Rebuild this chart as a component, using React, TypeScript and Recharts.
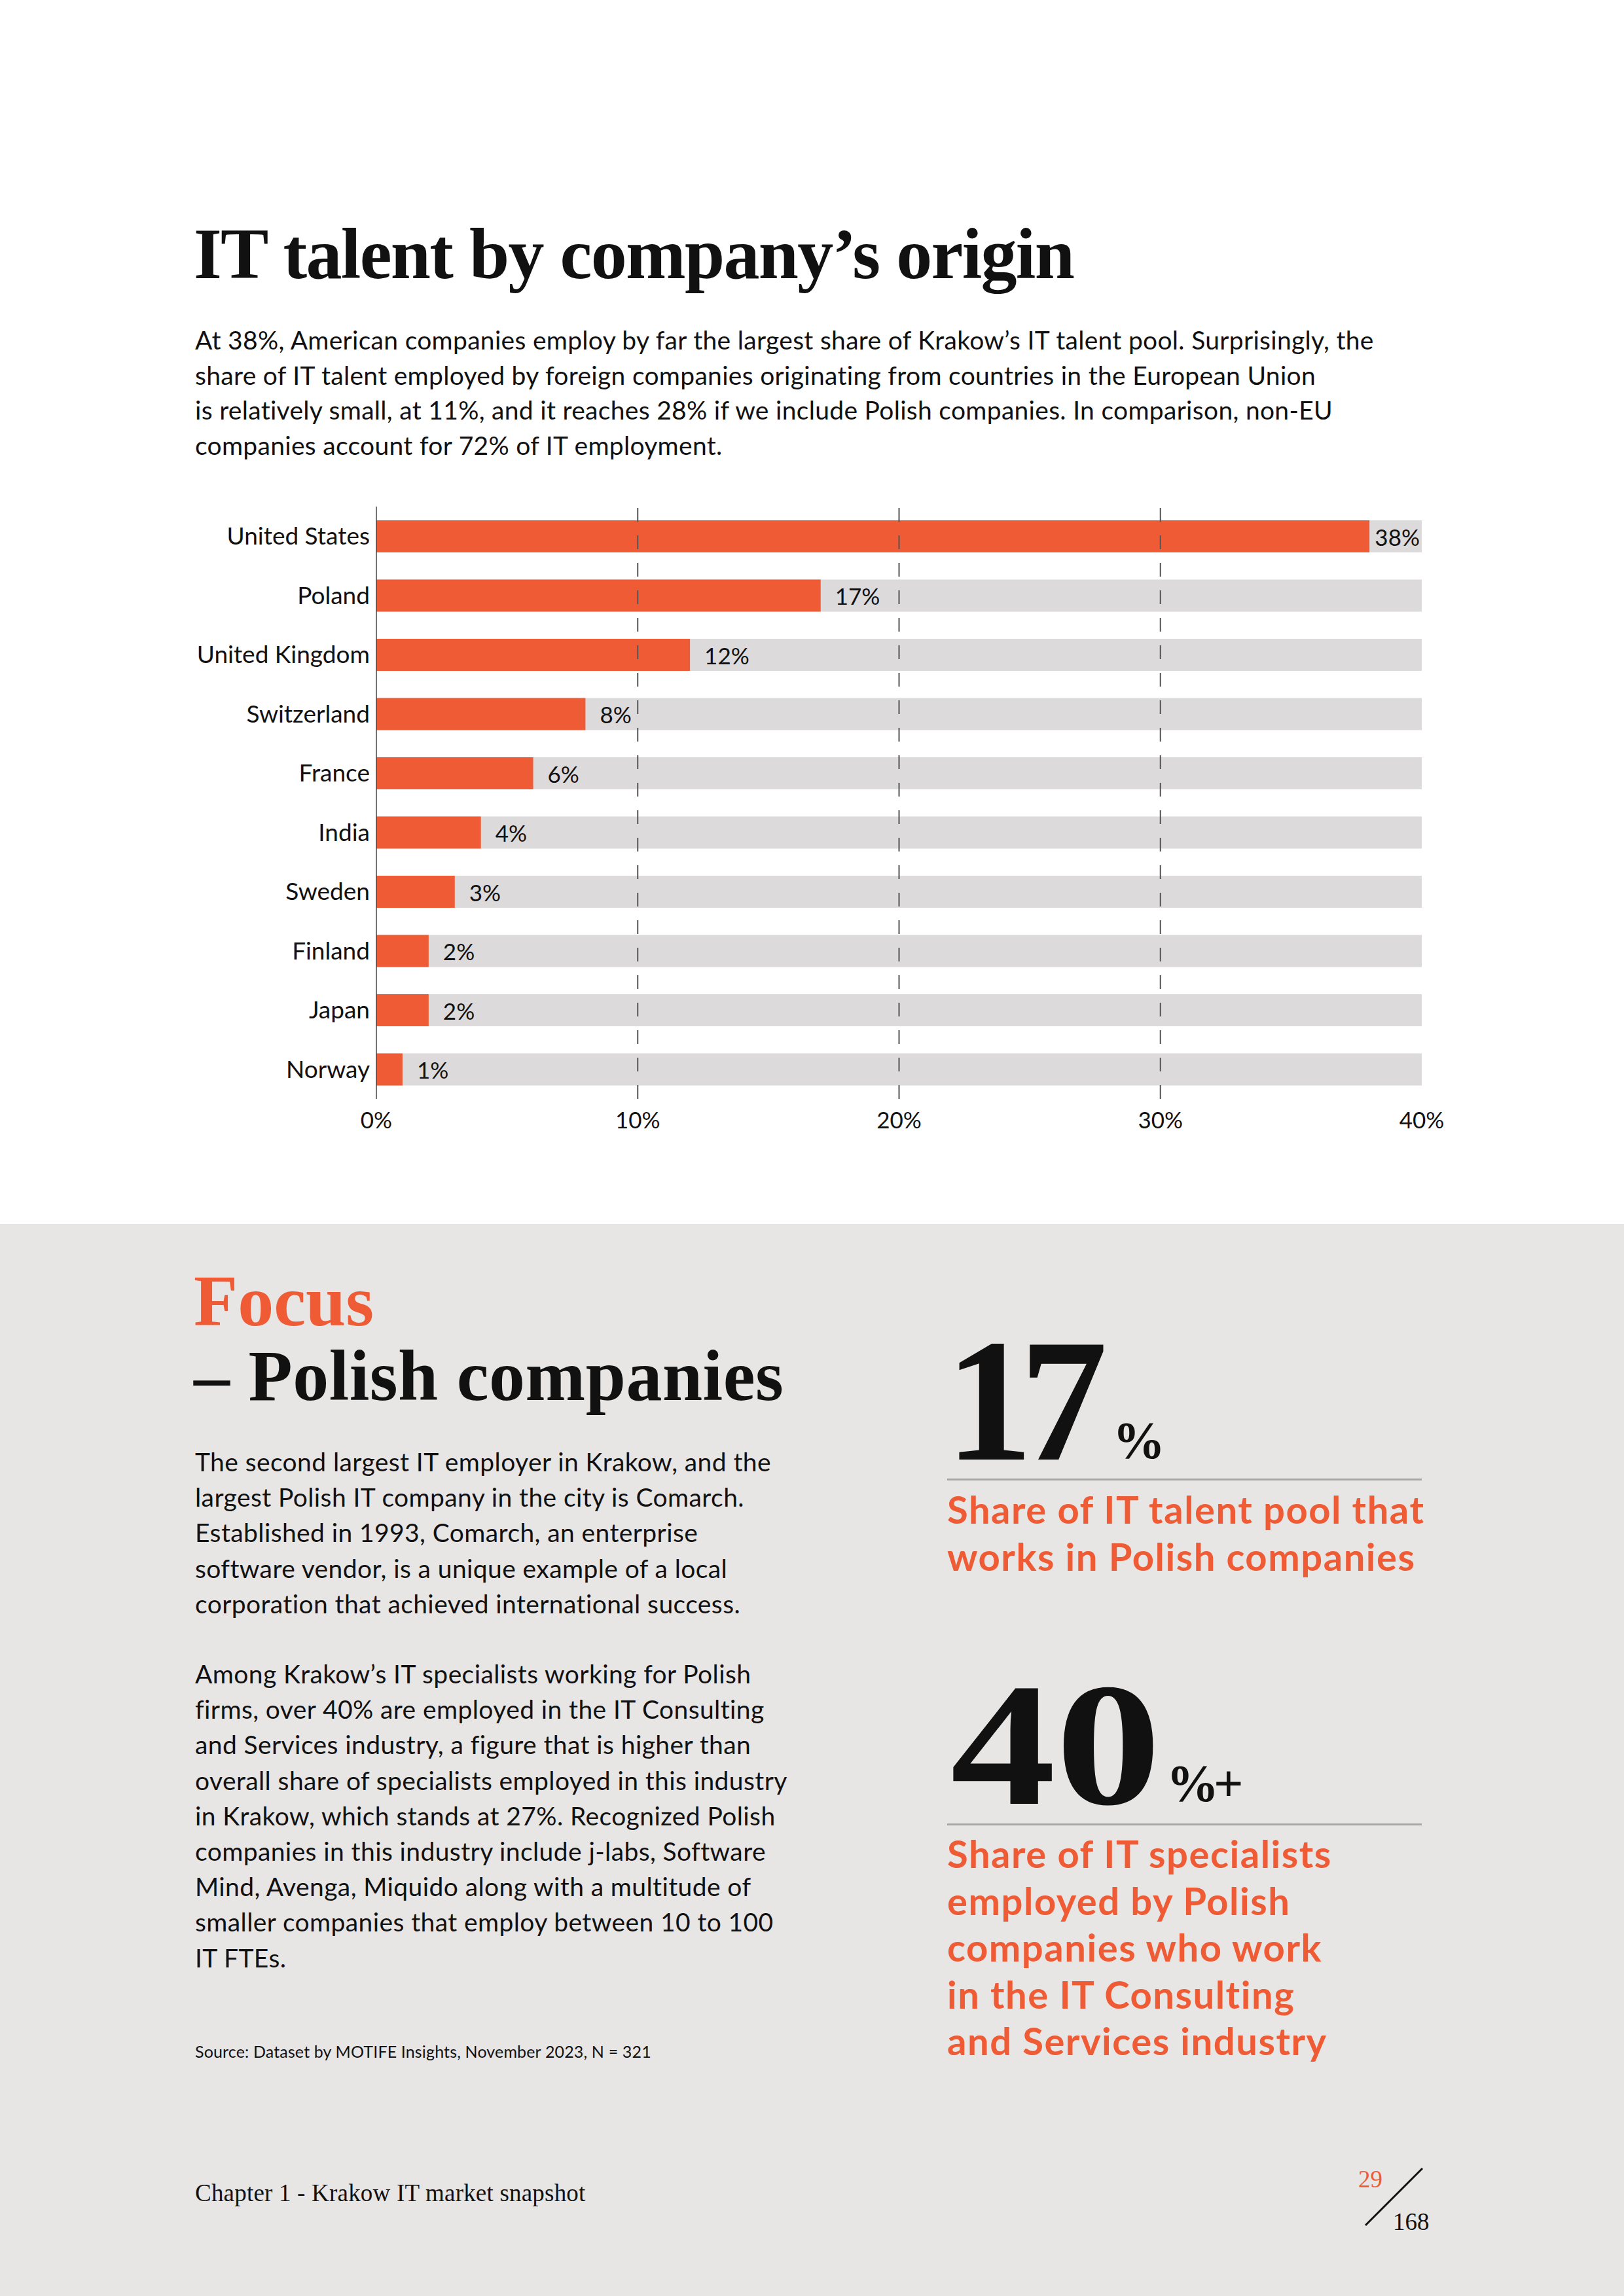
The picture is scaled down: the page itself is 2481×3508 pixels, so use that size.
import React from 'react';
import { BarChart, Bar, XAxis, YAxis, ReferenceLine, LabelList } from 'recharts';

// chart data
const countries = ['United States', 'Poland', 'United Kingdom', 'Switzerland', 'France', 'India', 'Sweden', 'Finland', 'Japan', 'Norway'];
const shares = [38, 17, 12, 8, 6, 4, 3, 2, 2, 1];
const xTicks = [0, 10, 20, 30, 40];
const gridTicks = [10, 20, 30];

const ORANGE = '#ef5b35';
const INK = '#111111';
const SANS = 'Lato, "Noto Sans", sans-serif';
const SERIF = '"Liberation Serif", "DejaVu Serif", serif';

const CHART_W = 2300;
const MARGIN_RIGHT = 128;
const PLOT_RIGHT = CHART_W - MARGIN_RIGHT;

const introLines = [
  'At 38%, American companies employ by far the largest share of Krakow\u2019s IT talent pool. Surprisingly, the',
  'share of IT talent employed by foreign companies originating from countries in the European Union',
  'is relatively small, at 11%, and it reaches 28% if we include Polish companies. In comparison, non-EU',
  'companies account for 72% of IT employment.',
];

const para1 = [
  'The second largest IT employer in Krakow, and the',
  'largest Polish IT company in the city is Comarch.',
  'Established in 1993, Comarch, an enterprise',
  'software vendor, is a unique example of a local',
  'corporation that achieved international success.',
];

const para2 = [
  'Among Krakow\u2019s IT specialists working for Polish',
  'firms, over 40% are employed in the IT Consulting',
  'and Services industry, a figure that is higher than',
  'overall share of specialists employed in this industry',
  'in Krakow, which stands at 27%. Recognized Polish',
  'companies in this industry include j-labs, Software',
  'Mind, Avenga, Miquido along with a multitude of',
  'smaller companies that employ between 10 to 100',
  'IT FTEs.',
];

const stat1Lines = ['Share of IT talent pool that', 'works in Polish companies'];
const stat2Lines = [
  'Share of IT specialists',
  'employed by Polish',
  'companies who work',
  'in the IT Consulting',
  'and Services industry',
];

const data = countries.map((country, i) => ({ country, share: shares[i] }));

type LinesProps = {
  lines: string[];
  x: number;
  y0: number;
  step: number;
  size: number;
  lh?: number;
  style?: React.CSSProperties;
};

// each y is the visual centre of the line
const Lines = ({ lines, x, y0, step, size, lh = size * 1.4, style }: LinesProps) => (
  <>
    {lines.map((l, i) => (
      <div
        key={i}
        style={{
          position: 'absolute',
          left: x,
          top: y0 + i * step - lh / 2,
          fontSize: size,
          lineHeight: `${lh}px`,
          whiteSpace: 'nowrap',
          ...style,
        }}
      >
        {l}
      </div>
    ))}
  </>
);

const renderValueLabel = (props: any) => {
  const { x, y, width, height, value } = props;
  const text = `${value}%`;
  const approxW = text.length * 22;
  let tx = Number(x) + Number(width) + 22;
  let anchor: 'start' | 'end' = 'start';
  if (tx + approxW > PLOT_RIGHT) {
    tx = PLOT_RIGHT - 3;
    anchor = 'end';
  }
  return (
    <text
      x={tx}
      y={Number(y) + Number(height) / 2}
      dominantBaseline="central"
      textAnchor={anchor}
      fill={INK}
      fontSize={35}
      fontFamily={SANS}
    >
      {text}
    </text>
  );
};

const OriginChart = () => (
  <BarChart
    layout="vertical"
    width={CHART_W}
    height={1039}
    data={data}
    margin={{ top: 74, right: MARGIN_RIGHT, bottom: 0, left: 0 }}
    barCategoryGap={0}
  >
    <XAxis
      type="number"
      domain={[0, 40]}
      ticks={xTicks}
      tickFormatter={(v: number) => `${v}%`}
      axisLine={false}
      tickLine={false}
      tickSize={0}
      tickMargin={20}
      height={60}
      tick={{ fill: INK, fontSize: 35, fontFamily: SANS }}
    />
    <YAxis
      type="category"
      dataKey="country"
      width={575}
      interval={0}
      axisLine={{ stroke: '#444', strokeWidth: 1.5 }}
      tickLine={false}
      tickSize={0}
      tickMargin={10}
      tick={{ fill: INK, fontSize: 37, fontFamily: SANS }}
    />
    <Bar
      dataKey="share"
      fill={ORANGE}
      barSize={49}
      background={{ fill: '#dcdadb' }}
      isAnimationActive={false}
    >
      <LabelList dataKey="share" content={renderValueLabel} />
    </Bar>
    {gridTicks.map((v) => (
      <ReferenceLine key={v} x={v} stroke="#555" strokeWidth={2} strokeDasharray="21 21" />
    ))}
  </BarChart>
);

const bigNumber: React.CSSProperties = {
  position: 'absolute',
  fontFamily: SERIF,
  fontWeight: 700,
  fontSize: 268,
  lineHeight: '200px',
  whiteSpace: 'nowrap',
  transformOrigin: 'left center',
};

export default function App() {
  return (
    <div
      style={{
        position: 'absolute',
        top: 0,
        left: 0,
        width: 2481,
        height: 3508,
        background: '#ffffff',
        color: INK,
        fontFamily: SANS,
        overflow: 'hidden',
      }}
    >
      {/* title + intro */}
      <Lines
        lines={['IT talent by company\u2019s origin']}
        x={296}
        y0={388}
        step={0}
        size={110}
        lh={120}
        style={{ fontFamily: SERIF, fontWeight: 700, letterSpacing: -1.7 }}
      />
      <Lines lines={introLines} x={298} y0={519} step={53.7} size={39} lh={54} style={{ letterSpacing: 0.3 }} />

      <div style={{ position: 'absolute', left: 0, top: 700 }}>
        <OriginChart />
      </div>

      {/* grey focus band */}
      <div style={{ position: 'absolute', left: 0, top: 1870, width: 2481, height: 1638, background: '#e8e6e4' }} />

      <Lines
        lines={['Focus']}
        x={296}
        y0={1988}
        step={0}
        size={110}
        lh={120}
        style={{ fontFamily: SERIF, fontWeight: 700, color: ORANGE }}
      />
      <Lines
        lines={['\u2013 Polish companies']}
        x={296}
        y0={2102}
        step={0}
        size={110}
        lh={120}
        style={{ fontFamily: SERIF, fontWeight: 700, letterSpacing: 0.5 }}
      />

      <Lines lines={para1} x={298} y0={2233} step={54.2} size={39} lh={54} style={{ letterSpacing: 0.4 }} />
      <Lines lines={para2} x={298} y0={2557} step={54.2} size={39} lh={54} style={{ letterSpacing: 0.4 }} />
      <Lines
        lines={['Source: Dataset by MOTIFE Insights, November 2023, N = 321']}
        x={298}
        y0={3134}
        step={0}
        size={25}
        lh={34}
        style={{ letterSpacing: 0.15 }}
      />

      {/* stat 1 */}
      <div style={{ ...bigNumber, left: 1444, top: 2040, letterSpacing: -20 }}>17</div>
      <div style={{ position: 'absolute', left: 1700, top: 2161, fontFamily: SERIF, fontWeight: 700, fontSize: 80, lineHeight: '80px' }}>
        %
      </div>
      <div style={{ position: 'absolute', left: 1447, top: 2259, width: 725, height: 3, background: '#a9a7a5' }} />
      <Lines lines={stat1Lines} x={1447} y0={2306} step={72} size={58} lh={70} style={{ color: ORANGE, fontWeight: 700, letterSpacing: 1.5 }} />

      {/* stat 2 */}
      <div style={{ ...bigNumber, left: 1452, top: 2566, transform: 'scaleX(1.2)' }}>40</div>
      <div style={{ position: 'absolute', left: 1782, top: 2685, fontFamily: SERIF, fontWeight: 700, fontSize: 80, lineHeight: '80px', letterSpacing: -8 }}>
        %+
      </div>
      <div style={{ position: 'absolute', left: 1447, top: 2786, width: 725, height: 3, background: '#a9a7a5' }} />
      <Lines lines={stat2Lines} x={1447} y0={2832} step={71.6} size={58} lh={70} style={{ color: ORANGE, fontWeight: 700, letterSpacing: 1.5 }} />

      {/* footer */}
      <Lines
        lines={['Chapter 1 - Krakow IT market snapshot']}
        x={298}
        y0={3351}
        step={0}
        size={37}
        lh={44}
        style={{ fontFamily: SERIF, letterSpacing: 0.2 }}
      />
      <div style={{ position: 'absolute', left: 2075, top: 3308, fontFamily: SERIF, fontSize: 37, lineHeight: '44px', color: ORANGE }}>
        29
      </div>
      <svg style={{ position: 'absolute', left: 2080, top: 3308 }} width={100} height={100}>
        <line x1={6} y1={92} x2={93} y2={5} stroke={INK} strokeWidth={3} />
      </svg>
      <div style={{ position: 'absolute', left: 2128, top: 3373, fontFamily: SERIF, fontSize: 37, lineHeight: '44px' }}>
        168
      </div>
    </div>
  );
}
